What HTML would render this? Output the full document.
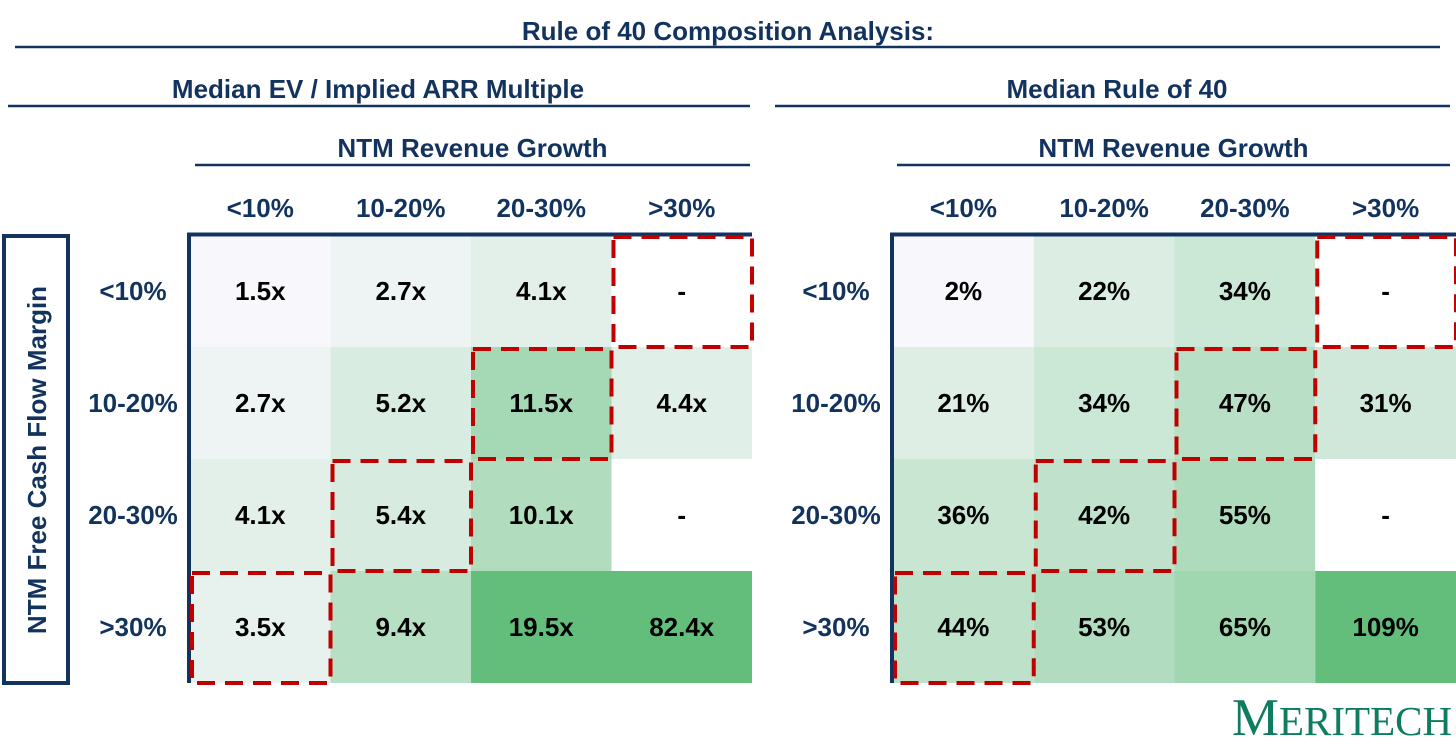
<!DOCTYPE html>
<html><head><meta charset="utf-8"><style>
body{margin:0;background:#fff;width:1456px;height:751px;overflow:hidden}
svg{display:block}
text{font-family:"Liberation Sans",Arial,sans-serif;font-weight:bold}
</style></head><body>
<svg id="c" width="1456" height="751">
<text x="728" y="40" text-anchor="middle" font-size="26" fill="#13335f">Rule of 40 Composition Analysis:</text>
<line x1="15" y1="47" x2="1440" y2="47" stroke="#13335f" stroke-width="2.5"/>
<text x="378" y="98" text-anchor="middle" font-size="26" fill="#13335f">Median EV / Implied ARR Multiple</text>
<line x1="8" y1="106" x2="750" y2="106" stroke="#13335f" stroke-width="2.5"/>
<text x="1117" y="98" text-anchor="middle" font-size="26" fill="#13335f">Median Rule of 40</text>
<line x1="775" y1="106" x2="1450" y2="106" stroke="#13335f" stroke-width="2.5"/>
<g>
<rect x="4" y="236" width="64" height="447" fill="none" stroke="#13335f" stroke-width="4"/>
<text transform="translate(46,460) rotate(-90)" text-anchor="middle" font-size="26" fill="#13335f">NTM Free Cash Flow Margin</text>
</g>
<text x="1342" y="735" text-anchor="middle" font-size="53" fill="#0e7c5f" style="font-family:'Liberation Serif',serif;font-weight:normal">M<tspan font-size="41">ERITECH</tspan></text>
</svg>
<script>
const colCats=["<10%","10-20%","20-30%",">30%"];
const rowCats=["<10%","10-20%","20-30%",">30%"];
const evValues=[[1.5,2.7,4.1,null],[2.7,5.2,11.5,4.4],[4.1,5.4,10.1,null],[3.5,9.4,19.5,82.4]];
const r40Values=[[2,22,34,null],[21,34,47,31],[36,42,55,null],[44,53,65,109]];
const highlight=[[0,3],[1,2],[2,1],[3,0]];
const svg=document.getElementById('c');const NS="http://www.w3.org/2000/svg";
function mk(t,a,p){const e=document.createElementNS(NS,t);for(const k in a)e.setAttribute(k,a[k]);(p||svg).appendChild(e);return e;}
function mix(t){t=Math.max(0,Math.min(1,t));const a=[248,248,252],b=[99,190,123];return `rgb(${a.map((v,i)=>Math.round(v+(b[i]-v)*t)).join(',')})`;}
function panel(name,x0,vals,fmt,cap){
  const cw=(x0===190?140.5:140.75),ch=112,y0=235;
  const xs=i=>x0+i*cw, ys=j=>y0+j*ch;
  const g=mk('g',{});
  
  
  const hx=(x0===190?195:897);
  const ht=mk('text',{x:(hx+750+(x0===190?0:700))/2,y:157,'text-anchor':'middle','font-size':26,fill:'#13335f'},g);
  ht.textContent="NTM Revenue Growth";
  
  
  mk('line',{x1:hx,y1:165,x2:(x0===190?750:1450),y2:165,stroke:'#13335f','stroke-width':2.5},g);
  const flat=vals.flat().filter(v=>v!=null);const mn=Math.min(...flat);
  colCats.forEach((c,i)=>{const t=mk('text',{x:xs(i)+cw/2,y:217,'text-anchor':'middle','font-size':26,fill:'#13335f'},g);t.textContent=c;
    
    });
  rowCats.forEach((r,j)=>{const t=mk('text',{x:x0-57,y:ys(j)+ch/2+9,'text-anchor':'middle','font-size':26,fill:'#13335f'},g);t.textContent=r;
    
    });
  vals.forEach((row,j)=>row.forEach((v,i)=>{
    const r=mk('rect',{x:xs(i),y:ys(j),width:cw,height:ch,fill:v==null?'#fff':mix((v-mn)/(cap-mn))},g);
    
    
    const t=mk('text',{x:xs(i)+cw/2,y:ys(j)+ch/2+9,'text-anchor':'middle','font-size':26,fill:'#000'},g);
    t.textContent=v==null?'-':fmt(v);
    
    
  }));
  mk('path',{d:`M${x0-1},${y0+4*ch} V${y0-0.5} H${xs(4)}`,fill:'none',stroke:'#13335f','stroke-width':4},g);
  highlight.forEach(([j,i])=>{const r=mk('rect',{x:xs(i)+2,y:ys(j)+2,width:cw-2,height:ch-2,fill:'none',stroke:'#c00000','stroke-width':4,'stroke-dasharray':'18 10'},g);
    
    });
}
panel('ev-multiple',190,evValues,v=>v.toFixed(1)+'x',19.5);
panel('rule-of-40',893,r40Values,v=>v+'%',109);
</script>
</body></html>
